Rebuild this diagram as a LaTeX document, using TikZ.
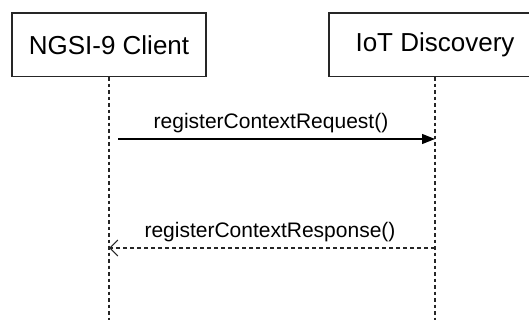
\documentclass[tikz,border=0pt]{standalone}
\usepackage{fontspec}
\setmainfont{Liberation Sans}
\usetikzlibrary{arrows.meta}
\begin{document}
\begin{tikzpicture}[x=1pt,y=-1pt,
  actor/.style={draw=black!85, line width=1.2pt, minimum height=63.5pt, inner sep=0pt, font=\fontsize{26}{30}\selectfont, text=black},
  lifeline/.style={draw=black!85, line width=1.1pt, dash pattern=on 3.5pt off 3pt},
  msg/.style={font=\fontsize{21}{25}\selectfont, text=black, inner sep=0pt},
  callarrow/.style={draw=black, line width=1.2pt, -{Triangle[length=13pt,width=10pt]}},
  replyarrow/.style={draw=black!85, line width=1.1pt, dash pattern=on 4pt off 3pt, -{Straight Barb[length=8pt,width=16pt,line width=1.1pt]}}]
\useasboundingbox (0,0) rectangle (529,320);
\clip (0,0) rectangle (529,320);
\node[actor, minimum width=194pt] (cl) at (109,44.75) {NGSI-9 Client};
\node[actor, minimum width=212pt] (iot) at (435,44.75) {IoT Discovery};
\coordinate (clend) at (cl.south |- 0,322);
\coordinate (iotend) at (iot.south |- 0,322);
\draw[lifeline] (cl.south) -- (clend);
\draw[lifeline] (iot.south) -- (iotend);
\coordinate (req1) at (118,139);
\coordinate (req2) at (iot.south |- 0,139);
\coordinate (res1) at (iot.south |- 0,248);
\coordinate (res2) at (cl.south |- 0,248);
\draw[callarrow] (req1) -- (req2);
\draw[replyarrow] (res1) -- (res2);
\node[msg] (reqlbl) at (271,123) {registerContextRequest()};
\node[msg] (reslbl) at (270,232) {registerContextResponse()};
\end{tikzpicture}
\end{document}
